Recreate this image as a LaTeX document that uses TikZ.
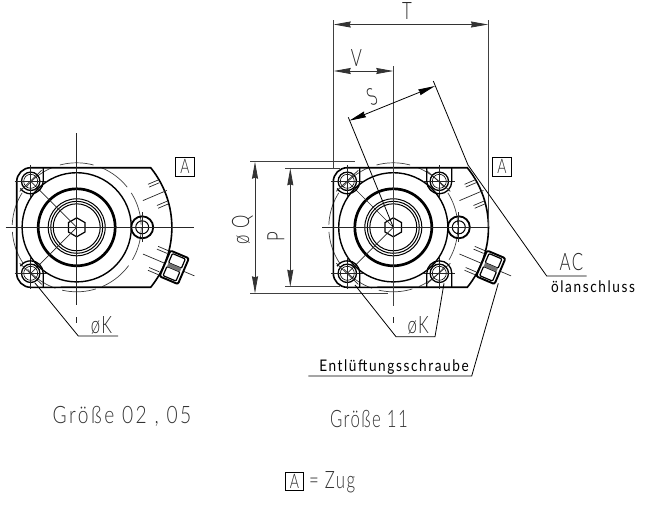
\documentclass[tikz,border=0pt]{standalone}
\usepackage{fontspec}
\setmainfont{Lato Light}[FakeStretch=0.8,LetterSpace=10.5]
\newfontfamily\narrowiso{Lato Light}[FakeStretch=0.7,LetterSpace=6]
\newfontfamily\boldiso{Lato}[FakeStretch=0.85,LetterSpace=10]
\usetikzlibrary{arrows.meta}
\tikzset{
	thinline/.style={line width=.7pt,black!85},
	heavy/.style={line width=1.6pt,black},
	mid/.style={line width=1pt,black},
	dimline/.style={line width=.8pt,black!80,{Stealth[length=17pt,width=6pt,inset=1pt]}-{Stealth[length=17pt,width=6pt,inset=1pt]}},
	extline/.style={line width=.8pt,black!75},
	leader/.style={line width=.8pt,black},
	hidden/.style={line width=.7pt,black!75,dash pattern=on 34pt off 7pt},
	lbl/.style={inner sep=0pt,text=black!85,font=\narrowiso\fontsize{24}{24}\selectfont},
	caption/.style={inner sep=0pt,text=black!80,font=\fontsize{24}{24}\selectfont},
	small/.style={inner sep=0pt,text=black,font=\boldiso\fontsize{16}{16}\selectfont},
	boxA/.style={draw=black,line width=.8pt,inner sep=0pt,minimum size=18.5pt,text=black!85,font=\narrowiso\fontsize{20}{20}\selectfont},
	% the parts both sizes share, drawn about the shaft centre
	pumpbody/.pic={
		\draw[hidden] (0,0) circle[radius=64.5];
		\draw[heavy] (-46,-59.6) -- (74,-59.6) arc[start angle=-39,end angle=39,radius=95] -- (-46,60)
			arc[start angle=90,end angle=180,radius=14] -- (-60,-45.6) arc[start angle=180,end angle=270,radius=14] -- cycle;
		\draw[line width=1.4pt] (0,0) circle[radius=54.6];
		\draw[line width=2.7pt] (0,0) circle[radius=38.5];
		\foreach \r in {28.5,26,23.5} \draw[mid] (0,0) circle[radius=\r];
		\draw[line width=1.2pt] (90:9.5)--(150:9.5)--(210:9.5)--(270:9.5)--(330:9.5)--(30:9.5)--cycle;
		\draw[thinline] (0,0)--(-46,-46) (0,0)--(-46,46);
		\draw[line width=1.8pt] (65.5,0) circle[radius=11];
		\draw[mid] (65.5,0) circle[radius=6.5];
		\draw[thinline] (50,0)--(81,0) (65.5,-15)--(65.5,15);
		% upper thread marks
		\begin{scope}[shift={(97.5,-40)},rotate=23]
			\draw[thinline] (-34,0)--(-8,0);
			\foreach \s in {-1,1} \draw[thinline] (-23,\s*10)--(-12,\s*10) (-23,\s*13)--(-12,\s*13);
		\end{scope}
		% plug at the lower right
		\begin{scope}[shift={(97.5,40)},rotate=-23]
			\draw[thinline] (-34,0)--(22,0);
			\foreach \s in {-1,1} \draw[thinline] (-23,\s*10)--(-12,\s*10) (-23,\s*13)--(-12,\s*13);
			\draw[line width=1.9pt,fill=white,rounded corners=2pt] (-10,-14) rectangle (10,14);
			\draw[line width=1.2pt,rounded corners=1pt] (-7,-12) rectangle (7,-2);
			\draw[line width=1.2pt,rounded corners=1pt] (-7,2) rectangle (7,12);
			\fill[black!55] (-7,-2) rectangle (7,2);
		\end{scope}
	},
	boltL/.pic={
		\draw[line width=1.3pt] (0,0) circle[radius=9.2];
		\draw[line width=.6pt] (0,0) circle[radius=7];
		\draw[thinline] (-16,0)--(16,0) (0,-16)--(0,16);
	}
}
\begin{document}
\begin{tikzpicture}[x=1pt,y=-1pt]
	\useasboundingbox (0,0) rectangle (650,504);
	\coordinate (cl) at (76.7,227.3);
	\coordinate (cr) at (393.3,227.3);
	% size 02, 05
	\pic at (cl) {pumpbody};
	\begin{scope}[shift={(cl)}]
		\foreach \y in {-46,46} \pic at (-46,\y) {boltL};
		\draw[line width=1.3pt] (-33.5,-59.6)--(-33.5,-46) arc[start angle=0,end angle=145,radius=12.5] (-33.5,60)--(-33.5,46) arc[start angle=0,end angle=-145,radius=12.5];
		\draw[thinline] (-57,-36)--(-35,-57) (-57,36)--(-35,57);
		\draw[thinline] (0,-94)--(0,78) (0,90)--(0,96) (-71,0)--(117,0);
	\end{scope}
	\node[boxA] (boxl) at (185,166.8) {A};
	\coordinate (kl1) at (35,283);
	\coordinate (kl2) at (78.3,336);
	\coordinate (kl3) at (118,336);
	\draw[leader] (kl1)--(kl2)--(kl3);
	\node[lbl] (kl) at (101.5,325) {øK};
	\node[caption] (sizea) at (122,416) {Größe 02 , 05};
	% size 11
	\pic at (cr) {pumpbody};
	\begin{scope}[shift={(cr)}]
		\foreach \x in {-46,46} \foreach \y in {-46,46} \pic at (\x,\y) {boltL};
		\draw[line width=1.3pt] (-33.5,-59.6)--(-33.5,-46) arc[start angle=0,end angle=145,radius=12.5] (-33.5,60)--(-33.5,46) arc[start angle=0,end angle=-145,radius=12.5];
		\draw[line width=1.3pt] (33.5,-59.6)--(33.5,-46) arc[start angle=180,end angle=0,radius=12.5]--(58.5,-59.6);
		\draw[line width=1.3pt] (33.5,60)--(33.5,46) arc[start angle=180,end angle=360,radius=12.5]--(58.5,60);
		\draw[thinline] (-57,-36)--(-35,-57) (-57,36)--(-35,57) (33,-57)--(57,-36) (33,57)--(57,36);
		\draw[thinline] (0,90)--(0,96) (-71,0)--(94.7,0);
	\end{scope}
	\node[boxA] (boxr) at (502,166.8) {A};
	% dimensions
	\coordinate (ta) at (333.7,24.5);
	\coordinate (tb) at (488,24.5);
	\coordinate (va) at (333.7,71);
	\coordinate (vb) at (393.3,71);
	\draw[extline] (333.7,20)--(333.7,168) (488,20)--(488,227.3) (393.3,66)--(393.3,306);
	\draw[dimline] (ta)--(tb);
	\draw[dimline] (va)--(vb);
	\node[lbl] (tl) at (407,11) {T};
	\node[lbl] (vl) at (356.5,58) {V};
	\coordinate (sa) at (349.3,120.7);
	\coordinate (sb) at (435,86);
	\draw[dimline,black] (sa)--(sb);
	\coordinate (sc) at (468,165);
	\draw[leader] (348.3,117.3)--(cr);
	\draw[leader] (433.3,81)--(sc);
	\node[lbl,rotate=23] (sl) at (372,97) {S};
	\coordinate (ac1) at (546.7,276);
	\coordinate (ac2) at (586.7,276);
	\draw[leader] (sc)--(ac1)--(ac2);
	\node[lbl] (acl) at (571.5,262.5) {AC};
	\node[small] (oel) at (593,287) {ölanschluss};
	\coordinate (qa) at (255,161.7);
	\coordinate (qb) at (255,293.3);
	\draw[extline] (250,161.7)--(355,161.7) (250,293.3)--(388,293.3);
	\draw[dimline] (qa)--(qb);
	\node[lbl,rotate=90] (ql) at (242.5,230) {ø Q};
	\coordinate (pa) at (290.3,168.3);
	\coordinate (pb) at (290.3,286.7);
	\draw[extline] (285,168.3)--(340,168.3) (285,286.7)--(340,286.7);
	\draw[dimline] (pa)--(pb);
	\node[lbl,rotate=90] (pl) at (276,237) {P};
	\coordinate (kr1) at (355,285);
	\coordinate (kr2) at (396,336.7);
	\coordinate (kr3) at (435,336.7);
	\coordinate (kr4) at (444,283.3);
	\draw[leader] (kr1)--(kr2)--(kr3)--(kr4);
	\node[lbl] (kr) at (418.3,325) {øK};
	\coordinate (en1) at (498.3,283.3);
	\coordinate (en2) at (471.7,376);
	\coordinate (en3) at (308.3,376);
	\draw[leader] (en1)--(en2)--(en3);
	\node[small] (enl) at (394,367) {Entlüftungsschraube};
	\node[caption,font=\narrowiso\fontsize{24}{24}\selectfont] (sizeb) at (369,419) {Größe 11};
	% legend
	\node[boxA] (boxz) at (294.5,481.5) {A};
	\node[caption,font=\narrowiso\fontsize{24}{24}\selectfont,anchor=west] (zug) at (309,482) {=\ Zug};
\end{tikzpicture}
\end{document}
